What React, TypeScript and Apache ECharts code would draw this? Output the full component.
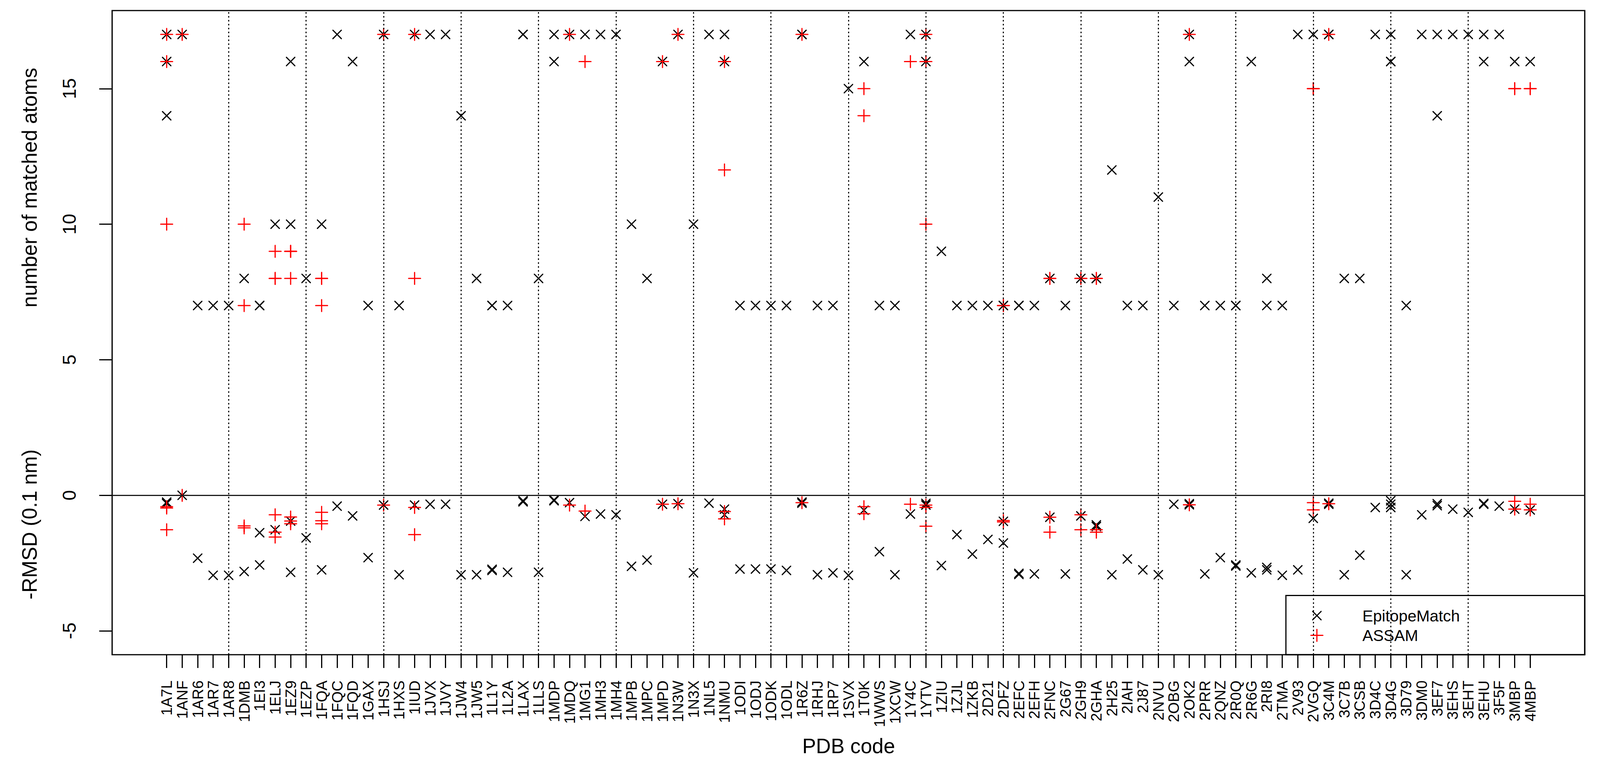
import React, { useEffect, useRef } from "react";
import * as echarts from "echarts";

const categories: string[] = [
  "1A7L","1ANF","1AR6","1AR7","1AR8","1DMB","1EI3","1ELJ","1EZ9","1EZP",
  "1FQA","1FQC","1FQD","1GAX","1HSJ","1HXS","1IUD","1JVX","1JVY","1JW4",
  "1JW5","1L1Y","1L2A","1LAX","1LLS","1MDP","1MDQ","1MG1","1MH3","1MH4",
  "1MPB","1MPC","1MPD","1N3W","1N3X","1NL5","1NMU","1ODI","1ODJ","1ODK",
  "1ODL","1R6Z","1RHJ","1RP7","1SVX","1T0K","1WWS","1XCW","1Y4C","1YTV",
  "1ZIU","1ZJL","1ZKB","2D21","2DFZ","2EFC","2EFH","2FNC","2G67","2GH9",
  "2GHA","2H25","2IAH","2J87","2NVU","2OBG","2OK2","2PRR","2QNZ","2R0Q",
  "2R6G","2RI8","2TMA","2V93","2VGQ","3C4M","3C7B","3CSB","3D4C","3D4G",
  "3D79","3DM0","3EF7","3EHS","3EHT","3EHU","3F5F","3MBP","4MBP",
];

// EpitopeMatch: number of matched atoms per PDB code
const epiAtoms: number[][] = [
  [17,16,14],[17],[7],[7],[7],[8],[7,7],[10],[16,10],[8],
  [10],[17],[16],[7],[17],[7],[17],[17],[17],[14],
  [8],[7,7],[7],[17,17],[8],[17,16],[17],[17],[17],[17],
  [10],[8],[16],[17],[10],[17],[17,16],[7],[7],[7],
  [7],[17,17],[7],[7],[15],[16],[7],[7],[17],[17,16],
  [9],[7],[7],[7],[7,7],[7,7],[7],[8],[7],[8],
  [8,8],[12],[7],[7],[11],[7],[17,16],[7],[7],[7,7],
  [16],[8,7],[7],[17],[17],[17,17],[8],[8],[17],[17,16,16],
  [7],[17],[17,14],[17],[17],[17,16],[17],[16],[16],
];

// EpitopeMatch: -RMSD (0.1 nm)
const epiRmsd: number[][] = [
  [-0.25,-0.3,-0.3],[0],[-2.32],[-2.95],[-2.95],[-2.81],[-1.38,-2.57],[-1.27],[-0.95,-2.84],[-1.57],
  [-2.75],[-0.4],[-0.76],[-2.3],[-0.36],[-2.93],[-0.36],[-0.33],[-0.33],[-2.93],
  [-2.93],[-2.73,-2.77],[-2.84],[-0.2,-0.24],[-2.84],[-0.17,-0.2],[-0.27],[-0.78],[-0.69],[-0.72],
  [-2.62],[-2.39],[-0.33],[-0.31],[-2.86],[-0.29],[-0.51,-0.72],[-2.72],[-2.72],[-2.72],
  [-2.77],[-0.25,-0.29],[-2.93],[-2.86],[-2.95],[-0.55],[-2.08],[-2.93],[-0.69],[-0.3,-0.36],
  [-2.59],[-1.45],[-2.17],[-1.63],[-0.96,-1.76],[-2.88,-2.92],[-2.9],[-0.81],[-2.9],[-0.76],
  [-1.09,-1.15],[-2.93],[-2.35],[-2.75],[-2.93],[-0.33],[-0.31,-0.35],[-2.9],[-2.3],[-2.57,-2.61],
  [-2.86],[-2.66,-2.75],[-2.95],[-2.75],[-0.85],[-0.29,-0.33],[-2.93],[-2.21],[-0.45],[-0.2,-0.33,-0.45],
  [-2.93],[-0.72],[-0.31,-0.38],[-0.51],[-0.63],[-0.3,-0.33],[-0.4],[-0.51],[-0.54],
];

// ASSAM: number of matched atoms per PDB code
const assamAtoms: number[][] = [
  [17,16,10],[17],[],[],[],[10,7],[],[9,8,8],[9,9,8],[],
  [8,8,7],[],[],[],[17],[],[17,8],[],[],[],
  [],[],[],[],[],[],[17],[16],[],[],
  [],[],[16],[17],[],[],[16,12],[],[],[],
  [],[17],[],[],[],[15,14],[],[],[16],[17,16,10],
  [],[],[],[],[7,7],[],[],[8,8],[],[8,8],
  [8,8],[],[],[],[],[],[17],[],[],[],
  [],[],[],[],[15,15],[17],[],[],[],[],
  [],[],[],[],[],[],[],[15,15],[15,15],
];

// ASSAM: -RMSD (0.1 nm)
const assamRmsd: number[][] = [
  [-0.42,-0.47,-1.27],[0],[],[],[],[-1.13,-1.2],[],[-0.72,-1.36,-1.54],[-0.8,-0.95,-1.05],[],
  [-0.63,-0.94,-1.05],[],[],[],[-0.36],[],[-0.45,-1.45],[],[],[],
  [],[],[],[],[],[],[-0.36],[-0.58],[],[],
  [],[],[-0.33],[-0.31],[],[],[-0.6,-0.87],[],[],[],
  [],[-0.27],[],[],[],[-0.42,-0.68],[],[],[-0.33],[-0.36,-0.45,-1.14],
  [],[],[],[],[-0.93,-0.98],[],[],[-0.81,-1.36],[],[-0.72,-1.27],
  [-1.27,-1.36],[],[],[],[],[],[-0.35],[],[],[],
  [],[],[],[],[-0.27,-0.54],[-0.31],[],[],[],[],
  [],[],[],[],[],[],[],[-0.22,-0.51],[-0.33,-0.54],
];

const yTicks: number[] = [-5, 0, 5, 10, 15];
const dottedAt: number[] = [5, 10, 15, 20, 25, 30, 35, 40, 45, 50, 55, 60, 65, 70, 75, 80, 85];

const FONT = "'Liberation Sans', Arial, Helvetica, sans-serif";
const CROSS = "path://M0,0L10,10M10,0L0,10";
const PLUS = "path://M5,0L5,10M0,5L10,5";
const REF_W = 4195;

const toPoints = (lists: number[][]) =>
  lists.flatMap((vals, i) => vals.map((v) => [i + 1, v]));

export default function App() {
  const ref = useRef<HTMLDivElement>(null);

  useEffect(() => {
    if (!ref.current) return;
    const chart = echarts.init(ref.current, null, { renderer: "svg" });
    const W = ref.current.clientWidth || REF_W;
    const sx = W / REF_W;
    const X = (v: number) => v * sx;
    const xTicks = categories.map((_, i) => i + 1);

    const gridL = X(294), gridR = X(4155), gridT = 27, gridB = 1675;

    const text = (t: string, x: number, y: number, size: number, align: string, rot = 0) => ({
      type: "text",
      x,
      y,
      rotation: rot,
      z: 10,
      style: {
        text: t,
        font: `${size}px ${FONT}`,
        fill: "#000",
        textAlign: align,
        textVerticalAlign: "middle",
      },
    });
    const seg = (x1: number, y1: number, x2: number, y2: number, color: string) => ({
      type: "line",
      z: 10,
      shape: { x1, y1, x2, y2 },
      style: { stroke: color, lineWidth: 3, lineCap: "round" },
    });

    const lx = X(3452.7), ly1 = 1575, ly2 = 1625.5;

    const option: any = {
      animation: false,
      backgroundColor: "#fff",
      textStyle: { fontFamily: FONT },
      grid: {
        left: gridL,
        top: gridT,
        width: gridR - gridL,
        height: gridB - gridT,
        show: true,
        borderColor: "#000",
        borderWidth: 3.2,
        backgroundColor: "transparent",
        containLabel: false,
      },
      xAxis: {
        type: "value",
        position: "bottom",
        min: 1 - 0.04 * 88,
        max: 89 + 0.04 * 88,
        splitLine: { show: false },
        axisLine: { show: false, onZero: false },
        axisTick: {
          show: true,
          customValues: xTicks,
          length: 34,
          lineStyle: { color: "#000", width: 3 },
        },
        axisLabel: {
          show: true,
          customValues: xTicks,
          rotate: 90,
          margin: 66,
          fontSize: 38.4,
          color: "#000",
          fontFamily: FONT,
          formatter: (v: number) => categories[Math.round(v) - 1] ?? "",
        },
      },
      yAxis: {
        type: "value",
        position: "left",
        min: -5 - 0.04 * 22,
        max: 17 + 0.04 * 22,
        splitLine: { show: false },
        axisLine: { show: false, onZero: false },
        axisTick: {
          show: true,
          customValues: yTicks,
          length: 33,
          lineStyle: { color: "#000", width: 3 },
        },
        axisLabel: {
          show: true,
          customValues: yTicks,
          rotate: 90,
          margin: 86,
          fontSize: 48,
          color: "#000",
          fontFamily: FONT,
        },
      },
      series: [
        {
          name: "EpitopeMatch",
          type: "scatter",
          silent: true,
          symbol: CROSS,
          symbolSize: 21.6,
          itemStyle: {
            color: "rgba(0,0,0,0)",
            borderColor: "#000",
            borderWidth: 3,
            borderCap: "round",
            opacity: 1,
          },
          data: [...toPoints(epiAtoms), ...toPoints(epiRmsd)],
          markLine: {
            silent: true,
            symbol: ["none", "none"],
            label: { show: false },
            emphasis: { disabled: true },
            data: [
              {
                yAxis: 0,
                lineStyle: { color: "#1a1a1a", width: 2.8, type: "solid" },
              },
              ...dottedAt.map((x) => ({
                xAxis: x,
                lineStyle: { color: "#000", width: 2.7, type: [4, 6] },
              })),
            ],
          },
        },
        {
          name: "ASSAM",
          type: "scatter",
          silent: true,
          symbol: PLUS,
          symbolSize: 30.5,
          itemStyle: {
            color: "rgba(0,0,0,0)",
            borderColor: "#ff0000",
            borderWidth: 3,
            borderCap: "round",
            opacity: 1,
          },
          data: [...toPoints(assamAtoms), ...toPoints(assamRmsd)],
        },
      ],
      graphic: [
        text("number of matched atoms", X(77.6), 480, 52.8, "center", Math.PI / 2),
        text("-RMSD (0.1 nm)", X(77.6), 1341.7, 52.8, "center", Math.PI / 2),
        text("PDB code", X(2225), 1908.6, 52.8, "center"),
        {
          type: "rect",
          z: 10,
          shape: { x: X(3371.5), y: 1523.5, width: gridR - X(3371.5), height: gridB - 1523.5 },
          style: { fill: "none", stroke: "#000", lineWidth: 3 },
        },
        seg(lx - 10.8, ly1 - 10.8, lx + 10.8, ly1 + 10.8, "#000"),
        seg(lx - 10.8, ly1 + 10.8, lx + 10.8, ly1 - 10.8, "#000"),
        seg(lx, ly2 - 15.3, lx, ly2 + 15.3, "#ff0000"),
        seg(lx - 15.3, ly2, lx + 15.3, ly2, "#ff0000"),
        text("EpitopeMatch", X(3572), 1575.5, 40.8, "left"),
        text("ASSAM", X(3572), 1625.5, 40.8, "left"),
      ],
    };

    chart.setOption(option);
    return () => chart.dispose();
  }, []);

  return (
    <div
      ref={ref}
      style={{
        position: "absolute",
        left: 0,
        top: 0,
        width: "100%",
        height: "1970px",
        background: "#fff",
      }}
    />
  );
}
